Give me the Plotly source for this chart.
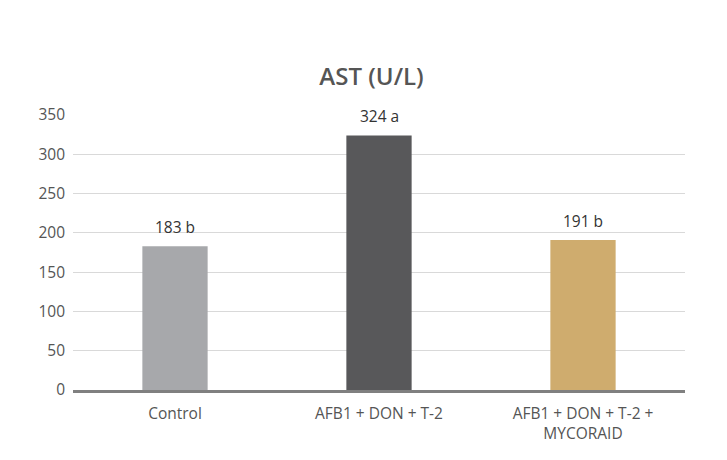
import plotly.graph_objects as go

# AST values per treatment group
groups = ['Control', 'AFB1 + DON + T-2', 'AFB1 + DON + T-2 +<br>MYCORAID']
ast_values = [183, 324, 191]
letters = ['b', 'a', 'b']
bar_colors = ['#a7a8ab', '#58585a', '#cfac6e']

labels = [f"{v} {l}" for v, l in zip(ast_values, letters)]

fig = go.Figure()
fig.add_trace(go.Bar(
    x=groups,
    y=ast_values,
    marker=dict(color=bar_colors, line=dict(width=0)),
    hoverinfo='x+y',
))

# value labels sitting a bit above each bar
for g, v, lab in zip(groups, ast_values, labels):
    fig.add_annotation(x=g, y=v, text=lab, showarrow=False, yshift=19,
                       font=dict(family='Open Sans', size=15.5, color='#333333'))

fig.update_layout(
    width=727,
    height=460,
    title=dict(text='AST (U/L)', x=0.5, xanchor='center', y=0.85, yanchor='middle',
               font=dict(family='Open Sans', size=24, weight=600, color='#555555')),
    font=dict(family='Open Sans', size=15.5, color='#555555'),
    plot_bgcolor='white',
    paper_bgcolor='white',
    margin=dict(l=65, r=50, t=107, b=78),
    bargap=0.68,
    showlegend=False,
    xaxis=dict(showline=True, linecolor='#808080', linewidth=3, ticks='',
               ticklabelstandoff=7, tickfont=dict(size=15.5, color='#555555')),
    yaxis=dict(range=[0, 350], dtick=50, showgrid=True, gridcolor='#d9d9d9',
               gridwidth=1, zeroline=False, ticks='', ticklabelstandoff=7,
               tickfont=dict(size=15.5, color='#555555')),
)

fig.write_html("out.html")
